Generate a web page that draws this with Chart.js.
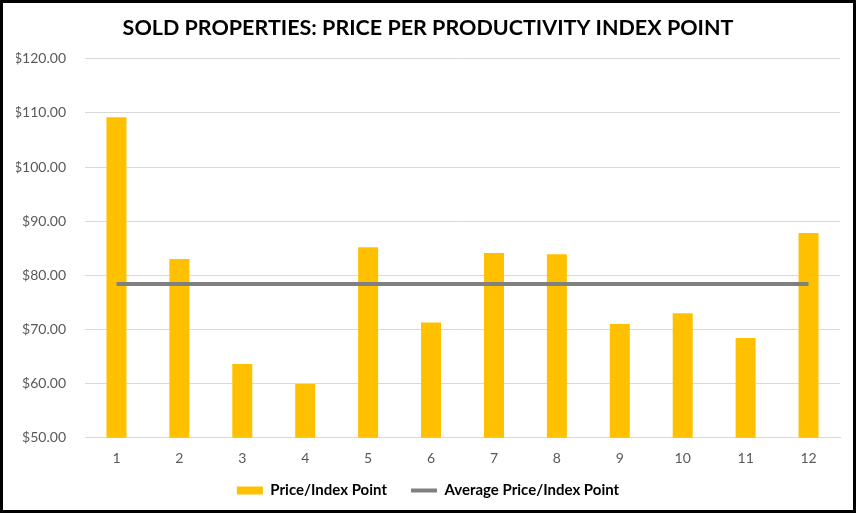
<!DOCTYPE html>
<html>
<head>
<meta charset="utf-8">
<script src="https://cdn.jsdelivr.net/npm/chart.js@4"></script>
<style>
    html, body { margin: 0; padding: 0; background: #fff; }
    #wrap {
        position: absolute; left: 0; top: 0;
        width: 856px; height: 513px;
        box-sizing: border-box;
        border: 3px solid #000;
        background: #fff;
    }
    #wrap canvas { display: block; }
</style>
</head>
<body>
<div id="wrap"><canvas id="chart" width="850" height="507"></canvas></div>
<script>
const categories = ["1", "2", "3", "4", "5", "6", "7", "8", "9", "10", "11", "12"];
const pricePerPoint = [109.2, 83.0, 63.6, 59.9, 85.2, 71.3, 84.1, 83.9, 71.0, 73.0, 68.4, 87.8];
const averagePrice = [78.4, 78.4, 78.4, 78.4, 78.4, 78.4, 78.4, 78.4, 78.4, 78.4, 78.4, 78.4];
const yMin = 50;
const yMax = 120;
const yStep = 10;

// pull the legend up a little closer to the axis labels
const legendNudge = {
    id: "legendNudge",
    afterLayout(chart) {
        chart.legend.top -= 19.5;
        chart.legend.bottom -= 19.5;
    },
};

document.addEventListener("DOMContentLoaded", () => {
    const $chart = document.querySelector("#chart");

    new Chart($chart, {
        type: "bar",
        data: {
            labels: categories,
            datasets: [
                {
                    type: "line",
                    label: "Average Price/Index Point",
                    data: averagePrice,
                    borderColor: "#808080",
                    backgroundColor: "#808080",
                    borderWidth: 4,
                    pointRadius: 0,
                    pointStyle: "line",
                    order: 0,
                },
                {
                    label: "Price/Index Point",
                    data: pricePerPoint,
                    backgroundColor: "#FFC000",
                    borderWidth: 0,
                    categoryPercentage: 1,
                    barPercentage: 0.318,
                    pointStyle: "rect",
                    order: 1,
                },
            ],
        },
        plugins: [legendNudge],
        options: {
            responsive: false,
            animation: false,
            layout: { padding: { top: 0, right: 13, bottom: -17.5, left: 13 } },
            plugins: {
                title: {
                    display: true,
                    text: "SOLD PROPERTIES: PRICE PER PRODUCTIVITY INDEX POINT",
                    color: "#000",
                    font: { family: "Lato, sans-serif", size: 21.5, weight: "bold" },
                    padding: { top: 12, bottom: 18 },
                },
                legend: {
                    position: "bottom",
                    reverse: true,
                    labels: {
                        color: "#000",
                        font: { family: "Lato, sans-serif", size: 15, weight: "bold" },
                        usePointStyle: true,
                        pointStyleWidth: 26,
                        boxHeight: 8,
                        padding: 24,
                    },
                },
                tooltip: { enabled: false },
            },
            scales: {
                x: {
                    grid: { display: false, drawTicks: false },
                    border: { color: "#d9d9d9", width: 1 },
                    ticks: {
                        color: "#595959",
                        font: { family: "Lato, sans-serif", size: 14 },
                        padding: 12,
                    },
                },
                y: {
                    min: yMin,
                    max: yMax,
                    grid: { color: "#d9d9d9", drawTicks: false },
                    border: { display: false },
                    ticks: {
                        stepSize: yStep,
                        color: "#595959",
                        font: { family: "Lato, sans-serif", size: 14 },
                        padding: 19,
                        callback: (v) => "$" + Number(v).toFixed(2),
                    },
                    afterFit: (scale) => {
                        scale.width = 69;
                    },
                },
            },
        },
    });
});
</script>
</body>
</html>
